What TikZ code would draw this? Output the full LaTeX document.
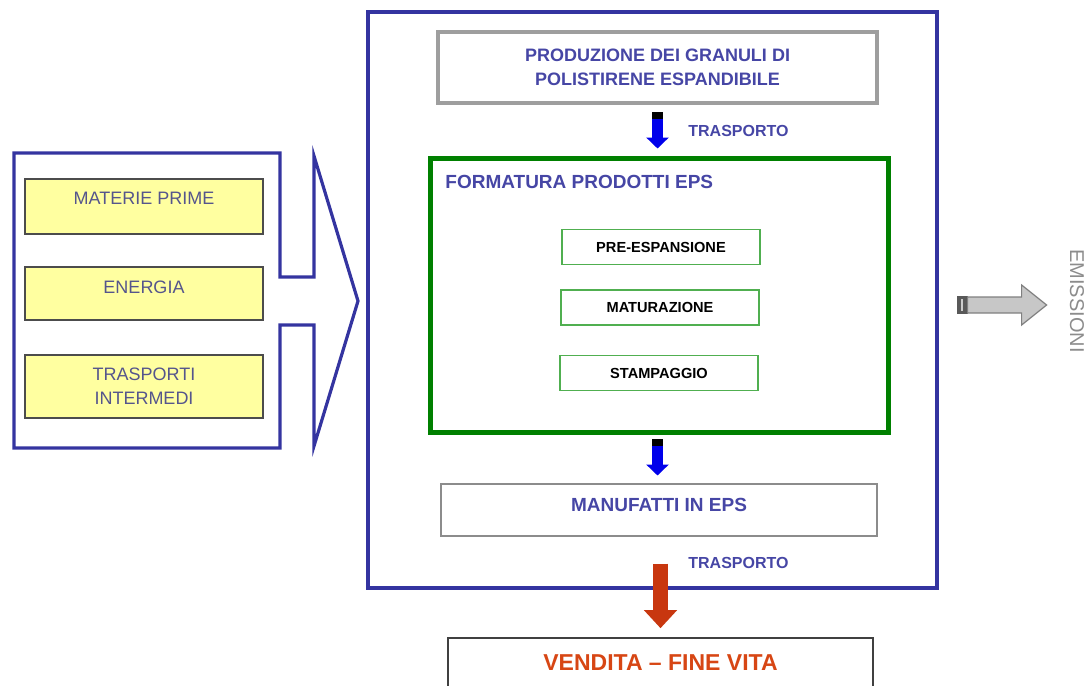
\documentclass[tikz,border=0pt]{standalone}
\usepackage{fontspec}
\setmainfont{Liberation Sans}
\usetikzlibrary{arrows.meta, positioning, calc}
\definecolor{framecolor}{RGB}{52,52,160}
\definecolor{textblue}{RGB}{70,70,165}
\definecolor{inputtext}{RGB}{85,85,140}
\definecolor{boxgreen}{RGB}{0,128,0}
\definecolor{stepgreen}{RGB}{80,175,80}
\definecolor{inputyellow}{RGB}{255,255,160}
\definecolor{arrowblue}{RGB}{0,0,235}
\definecolor{redarrow}{RGB}{200,55,15}
\definecolor{saletext}{RGB}{215,70,20}

\begin{document}
\begin{tikzpicture}[x=0.5pt, y=-0.5pt,
  every node/.style={inner sep=0pt, align=center},
  inbox/.style={draw=black!70, line width=0.7pt, fill=inputyellow, minimum width=119pt,
    text=inputtext, font=\fontsize{9}{12}\selectfont},
  stepbox/.style={draw=stepgreen, line width=0.8pt, minimum width=99pt, minimum height=17.5pt,
    font=\fontsize{7.3}{9}\selectfont\bfseries},
  phase/.style={font=\fontsize{9.5}{12}\selectfont\bfseries, text=textblue},
  tlabel/.style={font=\fontsize{8}{10}\selectfont\bfseries, text=textblue, anchor=west},
  flow/.style={arrowblue, line width=5.5pt, -{Triangle[width=11pt,length=5.5pt]}}]
  \clip (0,0) rectangle (1090,685);

  % inputs: hollow block arrow with the three yellow boxes
  \draw[framecolor, line width=1.6pt, line join=miter]
    (14,153) -- (280,153) -- (280,277) -- (314,277) -- (314,156) -- (358,301)
    -- (314,446) -- (314,325) -- (280,325) -- (280,448) -- (14,448) -- cycle;
  \node[inbox, minimum height=27.5pt, text depth=8pt] (raw) at (144,206.5) {MATERIE PRIME};
  \node[inbox, minimum height=26.5pt, text depth=6pt] (energy) at (144,293.5) {ENERGIA};
  \node[inbox, minimum height=31.5pt] (transp) at (144,386.5) {TRASPORTI\\INTERMEDI};

  % system boundary
  \node[draw=framecolor, line width=1.6pt, minimum width=284.5pt, minimum height=288pt] (frame) at (652.5,300) {};

  \node[draw=black!38, line width=2.2pt, minimum width=219.5pt, minimum height=35.5pt,
    phase, font=\fontsize{9}{12}\selectfont\bfseries] (prod) at (657.5,67.5)
    {PRODUZIONE DEI GRANULI DI\\POLISTIRENE ESPANDIBILE};

  % moulding stage
  \node[draw=boxgreen, line width=2.5pt, minimum width=229pt, minimum height=137pt] (form) at (659,295) {};
  \node[phase, anchor=west] (formtitle) at (445,182) {FORMATURA PRODOTTI EPS};
  \node[stepbox] (preexp) at (661,247) {PRE-ESPANSIONE};
  \node[stepbox] (ageing) at (660,307.5) {MATURAZIONE};
  \node[stepbox] (moulding) at (659,373) {STAMPAGGIO};

  \node[draw=black!45, line width=1pt, minimum width=218pt, minimum height=26pt,
    phase, text depth=4.5pt] (goods) at (659,509.5) {MANUFATTI IN EPS};
  \node[draw=black!75, line width=0.8pt, minimum width=212.5pt, minimum height=25pt,
    font=\fontsize{11.5}{13}\selectfont\bfseries, text=saletext] (sale) at (660.5,663) {VENDITA -- FINE VITA};

  % transport arrows
  \fill ($(prod.south)+(-5.5,7)$) rectangle ($(prod.south)+(5.5,14)$);
  \draw[flow] ($(prod.south)+(0,14)$) -- ($(prod.south |- form.north)+(0,-7)$);
  \node[tlabel] (trans1) at (688,131) {TRASPORTO};
  \fill ($(prod.south |- form.south)+(-5.5,4)$) rectangle ($(prod.south |- form.south)+(5.5,11)$);
  \draw[flow] ($(prod.south |- form.south)+(0,11)$) -- ($(prod.south |- goods.north)+(0,-7)$);
  \draw[redarrow, line width=7.5pt, -{Triangle[width=16pt,length=9pt]}]
    ($(goods.south)+(1.5,27)$) -- ($(goods.south |- sale.north)+(1.5,-9)$);
  \node[tlabel] (trans2) at (688,563) {TRASPORTO};

  % emissions leaving the boundary
  \coordinate (emis) at ($(frame.east)+(18,5)$);
  \fill[black!65] ($(emis)+(0,-9)$) rectangle ($(emis)+(11,9)$);
  \draw[black!20, line width=1pt] ($(emis)+(5.5,-6)$) -- ($(emis)+(5.5,6)$);
  \draw[black!50, fill=black!22, line width=0.6pt] ($(emis)+(11,-8)$) -- ++(54,0) -- ++(0,-12)
    -- ++(25,20) -- ++(-25,20) -- ++(0,-12) -- ++(-54,0) -- cycle;
  \node[rotate=-90, font=\fontsize{10}{12}\selectfont, text=black!45] (emistext) at (1077,301) {EMISSIONI};
\end{tikzpicture}
\end{document}
